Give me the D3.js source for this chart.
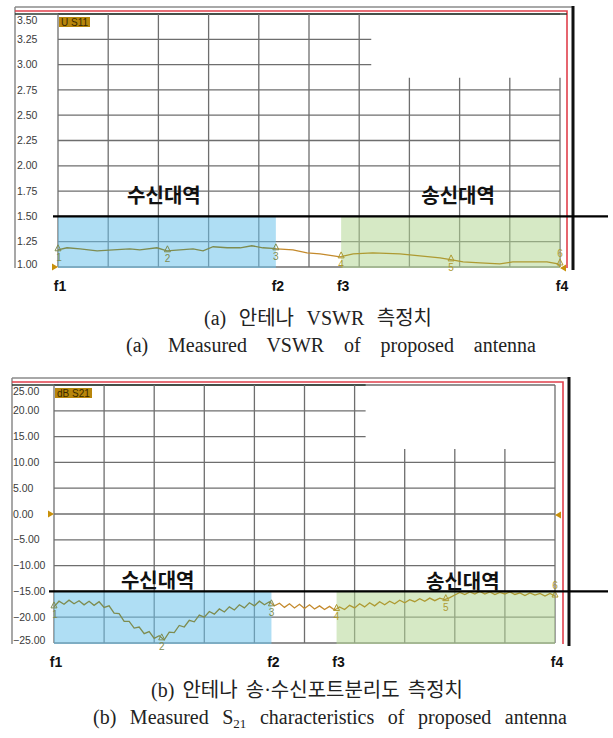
<!DOCTYPE html>
<html><head><meta charset="utf-8">
<script src="https://cdn.jsdelivr.net/npm/d3@7/dist/d3.min.js"></script>
<style>body{margin:0;background:#fff}svg{display:block}</style>
</head><body>
<svg id="c" width="613" height="738"></svg>
<script>
// ---------------- DATA ----------------
const gridDivs = [0,1,2,3,4,5,6,7,8,9,10];           // x grid divisions
const freqNames = ["f1","f2","f3","f4"];
const freqPos = [0, 4.34, 5.64, 10];                   // band edge positions (divisions)

const vswrTicks = [1.00,1.25,1.50,1.75,2.00,2.25,2.50,2.75,3.00,3.25,3.50];
const s21Ticks = [-25,-20,-15,-10,-5,0,5,10,15,20,25];

const vswrX = [0,0.18,0.44,0.78,1.10,1.43,1.63,1.97,2.17,2.43,2.69,2.89,3.09,3.37,3.63,3.86,4.08,4.36,4.68,4.96,5.22,5.62,5.88,6.27,6.81,7.21,7.61,7.85,8.07,8.41,8.80,9.06,9.46,9.74,9.96,10];
const vswrY = [1.17,1.19,1.18,1.16,1.17,1.18,1.17,1.19,1.16,1.17,1.18,1.16,1.20,1.19,1.19,1.21,1.19,1.18,1.17,1.14,1.13,1.10,1.13,1.14,1.13,1.11,1.09,1.07,1.05,1.04,1.03,1.05,1.05,1.05,1.03,1.00];
const vswrMarkX = [0, 2.18, 4.34, 5.64, 7.83, 10];
const vswrMarkY = [1.17, 1.16, 1.18, 1.10, 1.07, 1.03];
const vswrMarkN = ["1","2","3","4","5","6"];

const s21X = d3.range(0, 101).map(i => i / 10);
const s21Y = [-18.0,-16.9,-17.5,-16.7,-17.4,-16.8,-17.6,-16.9,-17.7,-17.0,
  -18.1,-17.8,-19.2,-19.3,-20.8,-20.8,-22.1,-21.9,-23.2,-22.8,
  -24.1,-23.6,-24.4,-22.9,-23.0,-21.6,-21.9,-20.6,-20.9,-19.6,
  -20.0,-18.9,-19.4,-18.4,-19.0,-18.0,-18.6,-17.6,-18.2,-17.2,
  -17.8,-16.9,-17.6,-17.0,-17.8,-17.3,-18.1,-17.4,-18.2,-17.5,
  -18.3,-17.6,-18.4,-17.8,-18.5,-17.9,-18.6,-18.0,-18.5,-17.7,
  -18.2,-17.4,-18.0,-17.2,-17.8,-17.0,-17.6,-16.9,-17.4,-16.7,
  -17.2,-16.6,-17.0,-16.4,-16.9,-16.3,-16.8,-16.3,-16.6,-16.2,
  -15.7,-15.2,-15.6,-15.1,-15.5,-15.0,-15.5,-15.1,-15.6,-15.2,
  -15.5,-15.1,-15.6,-15.3,-15.8,-15.3,-15.7,-15.4,-15.9,-15.4,-15.9];
const s21MarkX = [0, 2.15, 4.34, 5.64, 7.82, 10];
const s21MarkY = [-18.0, -24.2, -17.6, -18.5, -16.6, -15.9];
const s21MarkN = ["1","2","3","4","5","6"];

const bandLabels = ["수신대역","송신대역"];

// ---------------- DRAW ----------------
const svg = d3.select("#c");
const defs = svg.append("defs");
const gridColor = "#6e6e6e";
const segColors = ["#7e8c50", "#c48a2c", "#ae9a32"];   // trace colour in rx band, gap, tx band
let clipId = 0;

function panel(o) {
  const g = svg.append("g");
  const x = d3.scaleLinear().domain([0, 10]).range([o.left, o.right]);
  const y = d3.scaleLinear().domain([o.yMin, o.yMax]).range([o.bottom, o.top]);

  // outer frame
  g.append("line").attr("x1", o.fx0).attr("x2", o.fx1 + 5).attr("y1", o.top - 7).attr("y2", o.top - 7)
    .attr("stroke", "#a8a8a8").attr("stroke-width", 2);
  g.append("line").attr("x1", o.fx0).attr("x2", o.fx0).attr("y1", o.top - 7).attr("y2", o.bottom + 1)
    .attr("stroke", "#8a8a8a").attr("stroke-width", 1.5);
  g.append("path").attr("d", `M${o.fx0},${o.top - 3}H${o.fx1}V${o.bottom + 1}`)
    .attr("fill", "none").attr("stroke", "#e0404c").attr("stroke-width", 1.6);
  g.append("line").attr("x1", o.fx1 + 6).attr("x2", o.fx1 + 6).attr("y1", o.top - 8).attr("y2", o.bottom + 3)
    .attr("stroke", "#111").attr("stroke-width", 3);

  // horizontal grid
  o.ticks.forEach(v => {
    const cut = v > o.cutAbove && v < o.yMax;
    const xe = cut ? x(o.cutX) : x(10);
    g.append("line").attr("x1", x(0)).attr("x2", xe).attr("y1", y(v)).attr("y2", y(v))
      .attr("stroke", gridColor).attr("stroke-width", 1.3);
  });
  // top border line
  g.append("line").attr("x1", o.fx0).attr("x2", o.topFull ? o.fx1 : x(o.cutX)).attr("y1", o.top).attr("y2", o.top)
    .attr("stroke", "#2a3a30").attr("stroke-width", 1.6);
  // vertical grid
  gridDivs.forEach(d => {
    const partial = d > 6 && (d < 10 || o.lastPartial);
    g.append("line").attr("x1", x(d)).attr("x2", x(d))
      .attr("y1", partial ? y(o.vStart) : o.top).attr("y2", o.bottom)
      .attr("stroke", gridColor).attr("stroke-width", 1.3);
  });

  // y labels
  o.ticks.forEach(v => {
    const yy = Math.max(o.top + 6.5, Math.min(o.bottom - 2.5, y(v)));
    g.append("text").attr("x", o.labelX).attr("y", yy).attr("dy", "0.35em")
      .attr("font-family", "Liberation Sans, Arial, sans-serif").attr("font-size", 10.5)
      .attr("fill", "#3a3a3a").text(o.fmt(v));
  });

  // trace label box
  g.append("rect").attr("x", x(0) + 1).attr("y", o.top + 3).attr("width", o.boxW).attr("height", 10).attr("fill", "#b8860b");
  g.append("text").attr("x", x(0) + 3).attr("y", o.top + 12).attr("font-family", "Liberation Sans, Arial, sans-serif")
    .attr("font-size", 10).attr("fill", "#3a2a00").text(o.traceName);

  // band overlays
  g.append("rect").attr("x", x(freqPos[0])).attr("y", y(o.limit)).attr("width", x(freqPos[1]) - x(freqPos[0]))
    .attr("height", o.bottom + 1 - y(o.limit)).attr("fill", "rgb(110,195,235)").attr("opacity", 0.55);
  g.append("rect").attr("x", x(freqPos[2])).attr("y", y(o.limit)).attr("width", x(freqPos[3]) - x(freqPos[2]))
    .attr("height", o.bottom + 1 - y(o.limit)).attr("fill", "rgb(180,215,150)").attr("opacity", 0.55);

  // trace, coloured by band segment
  const line = d3.line().x((d, i) => x(o.xs[i])).y(d => y(d));
  const segs = [[-1, freqPos[1]], [freqPos[1], freqPos[2]], [freqPos[2], 11]];
  segs.forEach((s, k) => {
    const id = "clip" + (clipId++);
    defs.append("clipPath").attr("id", id).append("rect")
      .attr("x", x(s[0])).attr("y", 0).attr("width", x(s[1]) - x(s[0])).attr("height", 738);
    g.append("path").datum(o.ys).attr("d", line).attr("fill", "none").attr("clip-path", `url(#${id})`)
      .attr("stroke", segColors[k]).attr("stroke-width", 1.3);
  });

  // markers
  o.mx.forEach((mx, i) => {
    const px = x(mx), py = y(o.my[i]);
    const c = mx < freqPos[1] + 0.01 ? segColors[0] : (mx < freqPos[2] ? segColors[1] : segColors[2]);
    g.append("path").attr("d", `M${px - 3},${py + 1}L${px},${py - 5}L${px + 3},${py + 1}Z`)
      .attr("fill", "none").attr("stroke", c).attr("stroke-width", 1);
    const above = o.labelAbove[i];
    g.append("text").attr("x", px + (i === 0 ? 1 : 0)).attr("y", above ? py - 7 : py + 11)
      .attr("text-anchor", "middle").attr("font-family", "Liberation Sans, Arial, sans-serif")
      .attr("font-size", 10).attr("fill", c).text(o.mn[i]);
  });

  // reference triangles
  const ry = y(o.refVal);
  g.append("path").attr("d", `M${x(0) - 6},${ry - 3.5}L${x(0)},${ry}L${x(0) - 6},${ry + 3.5}Z`).attr("fill", "#c8900a");
  g.append("path").attr("d", `M${x(10) + 6},${o.refRightY - 3.5}L${x(10)},${o.refRightY}L${x(10) + 6},${o.refRightY + 3.5}Z`).attr("fill", "#c8900a");

  // limit line
  g.append("line").attr("x1", x(0) - 5).attr("x2", 608).attr("y1", y(o.limit)).attr("y2", y(o.limit))
    .attr("stroke", "#000").attr("stroke-width", 2.2);

  // band labels
  bandLabels.forEach((t, i) => {
    g.append("text").attr("x", x(o.bandLabelX[i])).attr("y", y(o.bandLabelY[i])).attr("dy", "0.35em")
      .attr("text-anchor", "middle").attr("font-family", "Noto Sans CJK KR, sans-serif")
      .attr("font-weight", 700).attr("font-size", 20).attr("fill", "#111").text(t);
  });

  // f labels
  freqNames.forEach((t, i) => {
    g.append("text").attr("x", x(freqPos[i]) + 2).attr("y", o.bottom + 19).attr("dy", "0.35em")
      .attr("text-anchor", "middle").attr("font-family", "Liberation Sans, Arial, sans-serif")
      .attr("font-weight", 700).attr("font-size", 14).attr("fill", "#111").text(t);
  });
}

panel({
  left: 58, right: 560, top: 14, bottom: 267, fx0: 15, fx1: 567,
  yMin: 1.0, yMax: 3.5, ticks: vswrTicks, fmt: d3.format(".2f"), labelX: 17,
  cutAbove: 2.9, cutX: 6.24, vStart: 2.87, topFull: true, lastPartial: true,
  traceName: "U S11", boxW: 31,
  xs: vswrX, ys: vswrY, mx: vswrMarkX, my: vswrMarkY, mn: vswrMarkN,
  labelAbove: [false,false,false,false,false,true],
  refVal: 1.0, refRightY: 268, limit: 1.5,
  bandLabelX: [2.11, 7.97], bandLabelY: [1.70, 1.70]
});

panel({
  left: 54, right: 555, top: 385, bottom: 643, fx0: 12, fx1: 563,
  yMin: -25, yMax: 25, ticks: s21Ticks, fmt: d3.format(".2f"), labelX: 13,
  cutAbove: 12, cutX: 6.22, vStart: 12.6, topFull: false, lastPartial: false,
  traceName: "dB S21", boxW: 37,
  xs: s21X, ys: s21Y, mx: s21MarkX, my: s21MarkY, mn: s21MarkN,
  labelAbove: [false,false,false,false,false,true],
  refVal: 0, refRightY: 515, limit: -15,
  bandLabelX: [2.07, 8.16], bandLabelY: [-12.9, -13.2]
});

// captions
function caption(parts, cx, cy, width) {
  const t = svg.append("text").attr("x", cx).attr("y", cy).attr("text-anchor", "middle")
    .attr("font-family", "Liberation Serif, 'Noto Sans CJK KR', serif").attr("font-size", 20).attr("fill", "#222");
  parts.forEach(p => {
    const s = t.append("tspan").text(p.t);
    if (p.sub) s.attr("font-size", 13).attr("dy", 4);
    if (p.after) s.attr("dy", -4);
  });
  const w0 = t.node().getComputedTextLength();
  const text = parts.map(p => p.t).join("");
  const spaces = (text.match(/ /g) || []).length;
  if (spaces && width > w0) t.attr("word-spacing", (width - w0) / spaces);
}
caption([{t: "(a) 안테나 VSWR 측정치"}], 318, 325, 228);
caption([{t: "(a) Measured VSWR of proposed antenna"}], 331, 352, 410);
caption([{t: "(b) 안테나 송·수신포트분리도 측정치"}], 307, 697, 312);
caption([{t: "(b) Measured S"}, {t: "21", sub: true}, {t: " characteristics of proposed antenna", after: true}], 330, 724, 474);
</script>
</body></html>
